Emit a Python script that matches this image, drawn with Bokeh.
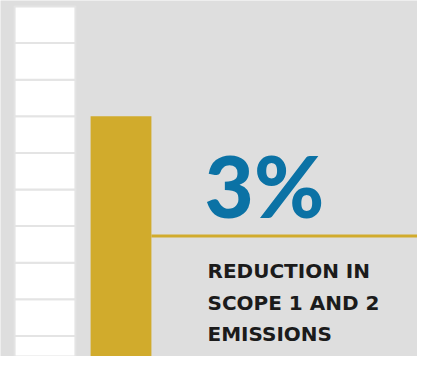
from bokeh.plotting import figure
from bokeh.models import Range1d
from bokeh.embed import file_html
from bokeh.resources import INLINE
from bokeh.core.properties import value

# ---- data ----
categories = ["Baseline", "Current"]
bar_values = [100, 70]          # percent of baseline (column heights)
segment_step = 10               # baseline column split in 10% blocks
headline = "3%"
caption_lines = ["REDUCTION IN", "SCOPE 1 AND 2", "EMISSIONS"]

# ---- styling ----
BG = "#dedede"
GOLD = "#d1ab2c"
BLUE = "#0b72a5"
DARK = "#1b1b1b"

p = figure(width=417, height=356, output_backend="svg", toolbar_location=None,
           x_range=Range1d(-0.5855, 4.901), y_range=Range1d(4.37, 101.64),
           min_border=0, outline_line_color=None)
p.background_fill_color = BG
p.border_fill_color = BG
p.axis.visible = False
p.grid.visible = False

xpos = list(range(len(categories)))
bw = 0.8

# baseline column drawn as stacked 10% blocks
n_seg = bar_values[0] // segment_step
bottoms = [i * segment_step for i in range(n_seg)]
tops = [(i + 1) * segment_step for i in range(n_seg)]
p.vbar(x=[xpos[0]] * n_seg, bottom=bottoms, top=tops, width=bw,
       fill_color="white", line_color="#e4e4e4", line_width=2)

# current column
p.vbar(x=[xpos[1]], bottom=[0], top=[bar_values[1]], width=bw,
       fill_color=GOLD, line_color=None)

# gold rule from column to right edge
rule_y = 37.3
p.segment(x0=[xpos[1] + bw / 2], y0=[rule_y], x1=[5.1], y1=[rule_y],
          line_color=GOLD, line_width=3)

# headline
p.text(x=[2.10], y=[51.3], text=[headline], text_color=BLUE,
       text_font=value("'Lato Black', 'Lato Heavy', Lato"), text_font_style="bold",
       text_font_size="85px", text_baseline="alphabetic", text_align="left")

# caption
cap_y = [27.6, 18.9, 10.4]
p.text(x=[2.138] * 3, y=cap_y, text=caption_lines, text_color=DARK,
       text_font=value("DejaVu Sans"), text_font_style="bold",
       text_font_size="20px", text_baseline="alphabetic", text_align="left")

open("out.html", "w").write(file_html(p, INLINE))
